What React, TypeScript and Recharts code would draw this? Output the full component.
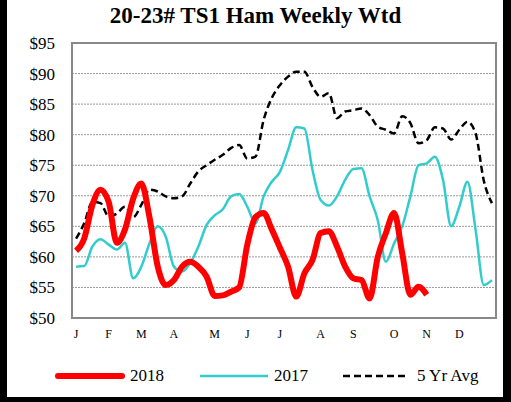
import React from "react";
import { LineChart, Line, XAxis, YAxis, CartesianGrid } from "recharts";

const monthLabels = ["J", "F", "M", "A", "M", "J", "J", "A", "S", "O", "N", "D"];
const monthWeeks = [0, 4, 8, 12, 17, 21, 25, 30, 34, 39, 43, 47];
const yTicks = [50, 55, 60, 65, 70, 75, 80, 85, 90, 95];

const series2018 = [
  61, 63, 68.5, 71, 69, 62.3, 64.5, 69.5, 72, 66.5,
  58.5, 55.4, 56.2, 58.4, 59.2, 58.4, 56.8, 53.6, 53.7, 54.3,
  55, 62, 66.5, 67.2, 64.5, 61.5, 58.4, 53.5, 57.3, 59.5,
  63.9, 64.2, 61.7, 58.4, 56.5, 56.2, 53.2, 60, 63.9, 67.2,
  60.6, 53.8, 55.1, 53.8,
];

const series2017 = [
  58.4, 58.5, 61.7, 62.9, 62, 61.2, 62.3, 56.5, 58.4, 62.2,
  65, 63.3, 58.4, 57.6, 59, 61.7, 65.2, 66.8, 67.8, 69.9,
  70.3, 68.2, 65.5, 69.9, 72.3, 73.9, 77.5, 81.2, 81, 74.2,
  69.3, 68.4, 69.9, 72.6, 74.4, 74.5, 69.9, 66, 59.2, 62.2,
  65, 69.9, 75, 75.3, 76.4, 72.6, 65, 68.2, 72.3, 64.4,
  55.4, 56.2,
];

const series5yr = [
  63, 65.5, 69, 68.8, 66.6, 67.1, 68.2, 66.5, 68.5, 71,
  70.7, 69.9, 69.6, 69.9, 72, 74, 75, 75.9, 76.7, 77.8,
  78.3, 76.1, 76.4, 82.4, 86, 88.1, 89.5, 90.3, 90.3, 87.8,
  86.2, 86.8, 82.7, 83.8, 84, 84.3, 83.2, 81.3, 80.8, 80.2,
  83, 81.9, 78.6, 79.1, 81.2, 81, 79.2, 80.8, 82.1, 80.2,
  72.5, 68.8,
];

const data = series5yr.map((v, i) => ({
  i,
  y2018: i < series2018.length ? series2018[i] : null,
  y2017: series2017[i],
  avg: v,
}));

const FONT = "'Liberation Serif', 'Times New Roman', serif";

export default function App() {
  return (
    <div
      style={{
        position: "absolute",
        left: 0,
        top: 0,
        width: 511,
        height: 402,
        background: "#fff",
        fontFamily: FONT,
        overflow: "hidden",
      }}
    >
      <div
        style={{
          position: "absolute",
          left: 0,
          top: 3,
          width: 511,
          textAlign: "center",
          fontSize: 23,
          fontWeight: "bold",
          lineHeight: "26px",
          color: "#000",
        }}
      >
        20-23# TS1 Ham Weekly Wtd
      </div>
      <div style={{ position: "absolute", left: 0, top: 0, fontFamily: FONT }}>
        <LineChart
          width={511}
          height={402}
          data={data}
          margin={{ top: 43, right: 15, bottom: 50, left: 0 }}
          style={{ fontFamily: FONT }}
        >
          <CartesianGrid
            vertical={false}
            stroke="#999"
            strokeDasharray="2 1"
            strokeWidth={1}
          />
          <XAxis
            dataKey="i"
            type="number"
            domain={[-0.5, 51.5]}
            ticks={monthWeeks}
            tickFormatter={(v: number) => monthLabels[monthWeeks.indexOf(v)] ?? ""}
            axisLine={false}
            tickLine={false}
            tickSize={0}
            tickMargin={11}
            height={34}
            interval={0}
            tick={{ fill: "#000", fontSize: 12, fontFamily: FONT }}
            allowDataOverflow
          />
          <YAxis
            type="number"
            domain={[50, 95]}
            ticks={yTicks}
            tickFormatter={(v: number) => `$${v}`}
            axisLine={false}
            tickLine={false}
            tickSize={0}
            tickMargin={17}
            width={72}
            interval={0}
            tick={{ fill: "#000", fontSize: 17, fontFamily: FONT }}
            allowDataOverflow
          />
          <Line
            dataKey="y2017"
            type="monotone"
            stroke="#33CCCC"
            strokeWidth={2.5}
            dot={false}
            isAnimationActive={false}
          />
          <Line
            dataKey="avg"
            type="monotone"
            stroke="#000"
            strokeWidth={2.5}
            strokeDasharray="7 4"
            dot={false}
            isAnimationActive={false}
          />
          <Line
            dataKey="y2018"
            type="monotone"
            stroke="#FF0000"
            strokeWidth={6}
            dot={false}
            connectNulls={false}
            isAnimationActive={false}
          />
        </LineChart>
      </div>
      {/* plot area border */}
      <div
        style={{
          position: "absolute",
          left: 71,
          top: 42,
          width: 422,
          height: 273,
          border: "2.5px solid #888",
          pointerEvents: "none",
        }}
      />
      {/* legend */}
      <div
        style={{
          position: "absolute",
          left: 0,
          top: 366,
          width: 511,
          height: 22,
          fontSize: 17,
          color: "#000",
        }}
      >
        <svg width={511} height={22} style={{ position: "absolute", left: 0, top: 0 }}>
          <line x1={58} y1={10} x2={122} y2={10} stroke="#FF0000" strokeWidth={6} strokeLinecap="round" />
          <line x1={200} y1={10} x2={268} y2={10} stroke="#33CCCC" strokeWidth={2.5} />
          <line x1={343} y1={10} x2={406} y2={10} stroke="#000" strokeWidth={2.5} strokeDasharray="7 4" />
        </svg>
        <span style={{ position: "absolute", left: 130, top: 0, lineHeight: "20px" }}>2018</span>
        <span style={{ position: "absolute", left: 274, top: 0, lineHeight: "20px" }}>2017</span>
        <span style={{ position: "absolute", left: 417, top: 0, lineHeight: "20px" }}>5 Yr Avg</span>
      </div>
      {/* outer frame */}
      <div style={{ position: "absolute", left: 0, top: 0, width: 7, height: 402, background: "#000" }} />
      <div style={{ position: "absolute", left: 503, top: 0, width: 8, height: 402, background: "#000" }} />
      <div style={{ position: "absolute", left: 0, top: 397, width: 511, height: 5, background: "#000" }} />
    </div>
  );
}
